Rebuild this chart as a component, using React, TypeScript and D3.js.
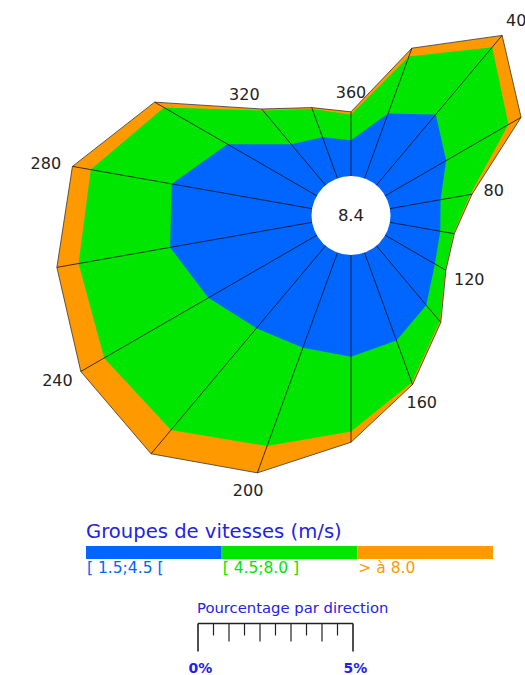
import React from 'react';
import * as d3 from 'd3';

// directions every 20 degrees, clockwise from north
const directions = [0, 20, 40, 60, 80, 100, 120, 140, 160, 180, 200, 220, 240, 260, 280, 300, 320, 340];
// percentage per direction for each speed group
const slowValues = [1.15, 2.23, 2.98, 2.27, 1.66, 1.65, 1.85, 2.5, 3.02, 3.28, 3.27, 3.47, 4.04, 4.65, 4.6, 3.33, 1.73, 1.41];
const midValues = [0.83, 1.95, 2.83, 2.32, 0.97, 0.43, 0.39, 0.68, 1.44, 2.41, 3.37, 4.29, 3.88, 3.0, 2.65, 2.36, 1.42, 0.97];
const fastValues = [0.09, 0.29, 0.5, 0.47, 0.06, 0.03, 0.02, 0.05, 0.07, 0.35, 0.92, 1.0, 0.87, 0.71, 0.6, 0.35, 0.06, 0.05];
const calm = '8.4';

const groupLabels = ['[ 1.5;4.5 [', '[ 4.5;8.0 ]', '> à 8.0'];
const groupColors = ['#0066ff', '#00e600', '#ff9900'];
const scaleTicks = [0, 0.5, 1, 1.5, 2, 2.5, 3, 3.5, 4, 4.5, 5];

const App = () => {
  const cx = 351;
  const cy = 215.5;
  const r0 = 39.5;
  const font = '"DejaVu Sans", Verdana, sans-serif';
  const blueText = '#2222e8';

  const r = d3.scaleLinear().domain([0, 5]).range([r0, r0 + 155]);
  const angle = d3.scaleLinear().domain([0, 360]).range([0, 2 * Math.PI]);

  const cum1 = slowValues;
  const cum2 = slowValues.map((v, i) => v + midValues[i]);
  const cum3 = cum2.map((v, i) => v + fastValues[i]);

  const ring = d3
    .lineRadial<number>()
    .angle((d, i) => angle(directions[i]))
    .radius((d) => r(d))
    .curve(d3.curveLinearClosed);

  const layers = [cum3, cum2, cum1];
  const layerColors = [groupColors[2], groupColors[1], groupColors[0]];

  const labels = directions
    .map((dir, i) => ({ dir, i }))
    .filter((d) => d.dir % 40 === 0)
    .map(({ dir, i }) => {
      const a = angle(dir);
      const txt = dir === 0 ? '360' : String(dir);
      const [px, py] = d3.pointRadial(a, r(cum3[i]) + 12);
      const w = txt.length * 10;
      const h = 14;
      return { txt, x: px + Math.sin(a) * w / 2, y: py - Math.cos(a) * h / 2 };
    });

  const legend = d3.scaleBand<number>().domain([0, 1, 2]).range([86, 493]);
  const bar = d3.scaleLinear().domain([0, 5]).range([198, 353]);
  const tickLen = (t: number) => (t === 0 || t === 5 ? 28 : Number.isInteger(t) ? 18 : 12);

  return (
    <svg
      width={525}
      height={675}
      style={{ position: 'absolute', left: 0, top: 0, background: '#fff' }}
      fontFamily={font}
    >
      <g transform={`translate(${cx},${cy})`}>
        {layers.map((vals, k) => (
          <path key={k} d={ring(vals) || ''} fill={layerColors[k]} />
        ))}
        <path d={ring(cum3) || ''} fill="none" stroke="#333" strokeWidth={0.8} />
        {directions.map((dir, i) => {
          const [x1, y1] = d3.pointRadial(angle(dir), r0);
          const [x2, y2] = d3.pointRadial(angle(dir), r(cum3[i]));
          return <line key={dir} x1={x1} y1={y1} x2={x2} y2={y2} stroke="#111" strokeWidth={0.8} />;
        })}
        <circle r={r0} fill="#fff" />
        <text textAnchor="middle" dominantBaseline="central" fontSize={16.5} fill="#222">
          {calm}
        </text>
        {labels.map((l) => (
          <text
            key={l.txt}
            x={l.x}
            y={l.y}
            textAnchor="middle"
            dominantBaseline="central"
            fontSize={16}
            fill="#222"
          >
            {l.txt}
          </text>
        ))}
      </g>

      <text x={86} y={538} fontSize={19.6} fill={blueText}>
        Groupes de vitesses (m/s)
      </text>
      {groupColors.map((c, i) => (
        <g key={i}>
          <rect x={legend(i)} y={546} width={legend.bandwidth()} height={13} fill={c} />
          <text x={(legend(i) || 0) + 1} y={573} fontSize={15.5} fill={c}>
            {groupLabels[i]}
          </text>
        </g>
      ))}

      <text x={197} y={613} fontSize={14.8} fill={blueText}>
        Pourcentage par direction
      </text>
      <line x1={bar(0)} x2={bar(5)} y1={623.5} y2={623.5} stroke="#222" strokeWidth={1.5} />
      {scaleTicks.map((t) => (
        <line
          key={t}
          x1={bar(t)}
          x2={bar(t)}
          y1={623.5}
          y2={623.5 + tickLen(t)}
          stroke="#222"
          strokeWidth={t === 0 || t === 5 ? 1.6 : 1.2}
        />
      ))}
      {[0, 5].map((t) => (
        <text key={t} x={bar(t) + 2.5} y={673} textAnchor="middle" fontSize={14} fontWeight="bold" fill={blueText}>
          {t}%
        </text>
      ))}
    </svg>
  );
};

export default App;
